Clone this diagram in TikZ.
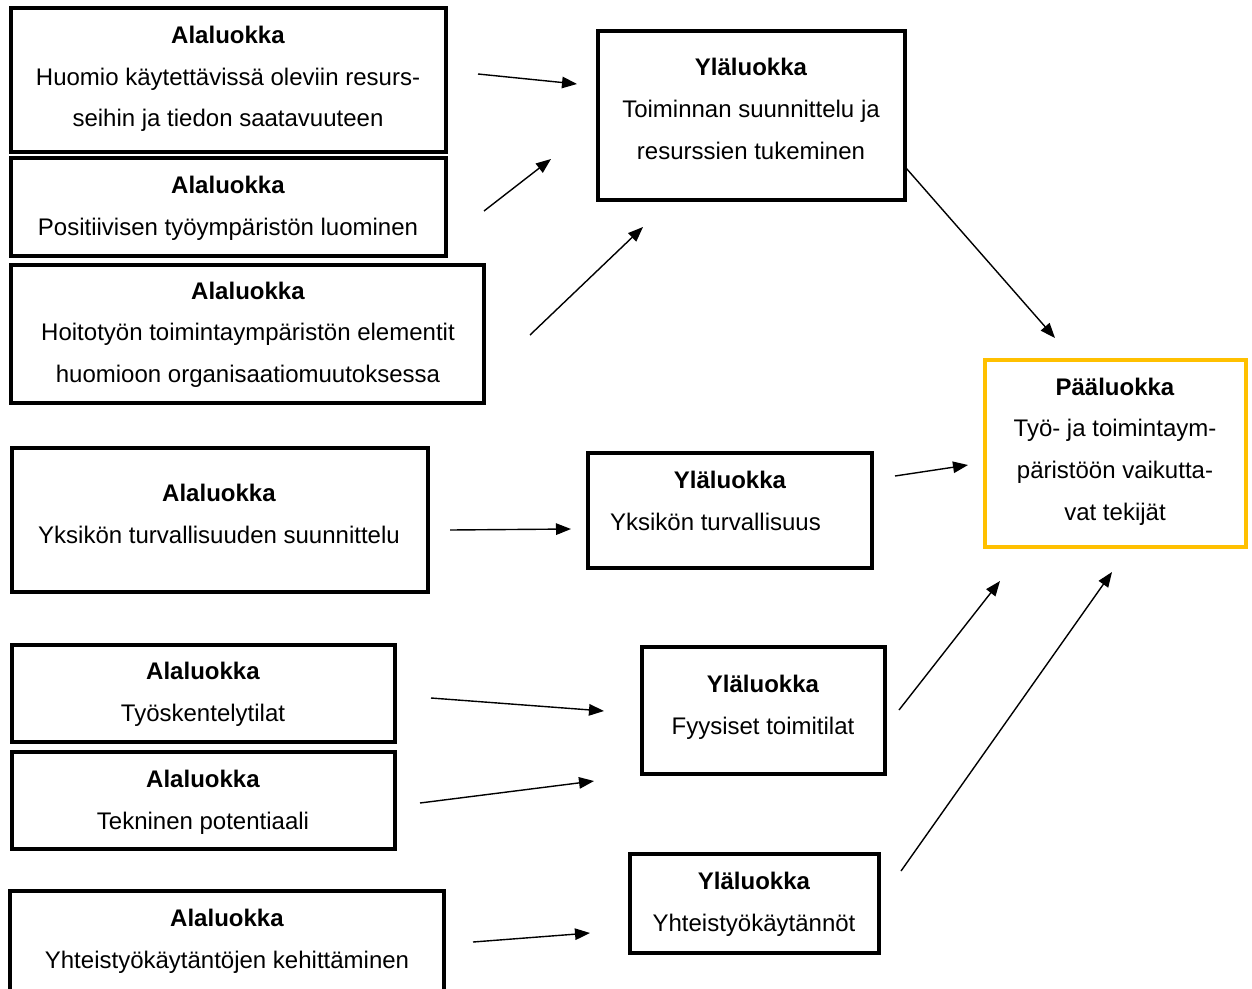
\documentclass[tikz,border=0pt]{standalone}
\usepackage{fontspec}
\setmainfont{Liberation Sans}
\usetikzlibrary{arrows.meta}
\definecolor{gold}{HTML}{FFC000}
\tikzset{
  box/.style={draw=black, line width=4pt},
  mainbox/.style={draw=gold, line width=4pt},
  txt/.style={align=center, inner sep=0pt, font=\fontsize{24}{41.6}\selectfont},
  arr/.style={line width=1.4pt, -{Triangle[length=15pt,width=11.5pt]}}
}
\begin{document}
\begin{tikzpicture}[x=1pt,y=-1pt]
\useasboundingbox (0,0) rectangle (1252,988);
\clip (0,0) rectangle (1252,988);
\fill[white] (0,0) rectangle (1252,988);
% boxes
\draw[box] (11,8) rectangle (446,152);
\draw[box] (11,158) rectangle (446,256);
\draw[box] (11,265) rectangle (484,403);
\draw[box] (598,31) rectangle (905,200);
\draw[box] (12,448) rectangle (428,592);
\draw[box] (588,453) rectangle (872,568);
\draw[mainbox] (985,360) rectangle (1246,547);
\draw[box] (12,645) rectangle (395,742);
\draw[box] (12,752) rectangle (395,849);
\draw[box] (642,647) rectangle (885,774);
\draw[box] (10,891) rectangle (444,1010);
\draw[box] (630,854) rectangle (879,953);
% texts
\node[txt] (a1) at (228,79) {\textbf{Alaluokka}\\Huomio käytettävissä oleviin resurs-\\seihin ja tiedon saatavuuteen};
\node[txt] (a2) at (228,208.5) {\textbf{Alaluokka}\\Positiivisen työympäristön luominen};
\node[txt] (a3) at (248,334.5) {\textbf{Alaluokka}\\Hoitotyön toimintaympäristön elementit\\huomioon organisaatiomuutoksessa};
\node[txt] (y1) at (751,109) {\textbf{Yläluokka}\\Toiminnan suunnittelu ja\\resurssien tukeminen};
\node[txt] (a4) at (219,514) {\textbf{Alaluokka}\\Yksikön turvallisuuden suunnittelu};
\node[txt] (y2) at (730,501) {\textbf{Yläluokka}\\Yksikön turvallisuus\hspace*{29pt}};
\node[txt] (p) at (1115,451.5) {\textbf{Pääluokka}\\Työ- ja toimintaym-\\päristöön vaikutta-\\vat tekijät};
\node[txt] (a5) at (203,694.5) {\textbf{Alaluokka}\\Työskentelytilat};
\node[txt] (a6) at (203,802) {\textbf{Alaluokka}\\Tekninen potentiaali};
\node[txt] (y3) at (763,707.5) {\textbf{Yläluokka}\\Fyysiset toimitilat};
\node[txt] (a7) at (227,941) {\textbf{Alaluokka}\\Yhteistyökäytäntöjen kehittäminen};
\node[txt] (y4) at (754,904) {\textbf{Yläluokka}\\Yhteistyökäytännöt};
% arrow end points
\coordinate (s1) at (478,74);  \coordinate (e1) at (577,84);
\coordinate (s2) at (484,211); \coordinate (e2) at (551,159);
\coordinate (s3) at (530,335); \coordinate (e3) at (643,227);
\coordinate (s4) at (906,168); \coordinate (e4) at (1055,338);
\coordinate (s5) at (450,530); \coordinate (e5) at (571,529);
\coordinate (s6) at (895,476); \coordinate (e6) at (968,465);
\coordinate (s7) at (431,698); \coordinate (e7) at (604,711);
\coordinate (s8) at (420,803); \coordinate (e8) at (594,781);
\coordinate (s9) at (899,710); \coordinate (e9) at (1000,581);
\coordinate (s10) at (473,942); \coordinate (e10) at (590,933);
\coordinate (s11) at (901,871); \coordinate (e11) at (1112,572);
\foreach \i in {1,...,11} { \draw[arr] (s\i) -- (e\i); }
\end{tikzpicture}
\end{document}
